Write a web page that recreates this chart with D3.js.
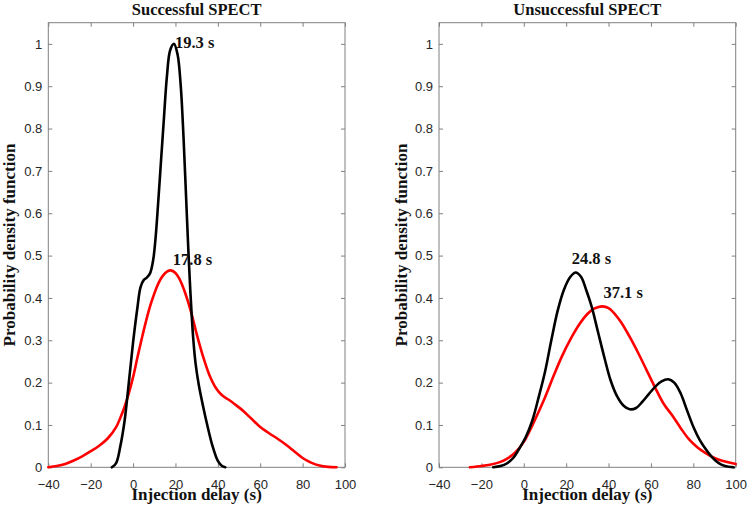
<!DOCTYPE html>
<html>
<head>
<meta charset="utf-8">
<script src="https://cdn.jsdelivr.net/npm/d3@7"></script>
<style>
  html, body { margin: 0; padding: 0; background: #fff; }
  svg { display: block; }
</style>
</head>
<body>
<svg id="chart" width="750" height="508"></svg>
<script>
// ---------------- DATA ----------------
const panelTitles = ["Successful SPECT", "Unsuccessful SPECT"];
const xTicks = [-40, -20, 0, 20, 40, 60, 80, 100];
const yTicks = [0, 0.1, 0.2, 0.3, 0.4, 0.5, 0.6, 0.7, 0.8, 0.9, 1];
const xLabel = "Injection delay (s)";
const yLabel = "Probability density function";

// Successful SPECT - black curve
const succBlackX = [-10, -8, -6, -4, -2, 0, 2, 3.5, 5, 6.5, 8, 9.5, 10.5, 11.5, 13, 14.5, 16, 17.5, 19.3, 21, 22.5, 23.8, 25, 26.2, 27.2, 28.3, 29.5, 31, 33, 35, 37.5, 40, 42, 43.5];
const succBlackY = [0, 0.01, 0.05, 0.11, 0.2, 0.295, 0.375, 0.425, 0.442, 0.448, 0.458, 0.49, 0.535, 0.6, 0.71, 0.82, 0.925, 0.985, 1.0, 0.975, 0.9, 0.78, 0.64, 0.5, 0.4, 0.31, 0.245, 0.195, 0.145, 0.1, 0.05, 0.015, 0.003, 0];
// Successful SPECT - red curve
const succRedX = [-40, -36, -32, -28, -24, -20, -16, -12, -8, -6, -4, -2, 0, 2, 4, 6, 8, 10, 12, 14, 16, 17.8, 20, 22, 24, 26, 28, 30, 33, 36, 39, 42, 45, 48, 52, 56, 60, 64, 68, 72, 76, 80, 84, 88, 92, 96];
const succRedY = [0, 0.003, 0.008, 0.016, 0.026, 0.038, 0.051, 0.068, 0.095, 0.117, 0.143, 0.175, 0.213, 0.258, 0.302, 0.343, 0.38, 0.41, 0.435, 0.452, 0.462, 0.465, 0.459, 0.444, 0.42, 0.39, 0.355, 0.315, 0.262, 0.218, 0.188, 0.17, 0.16, 0.149, 0.133, 0.114, 0.095, 0.081, 0.068, 0.054, 0.038, 0.022, 0.011, 0.004, 0.001, 0];

// Unsuccessful SPECT - black curve
const unsBlackX = [-14.4, -11, -8, -5, -2, 1, 4, 7, 10, 13, 16, 19, 22, 24.5, 27, 29.5, 32, 35, 38, 41, 44, 47, 50, 53, 56, 59, 62, 65, 68.2, 71, 74, 77, 80, 83, 86, 89, 92, 95, 99];
const unsBlackY = [0, 0.003, 0.009, 0.022, 0.045, 0.072, 0.11, 0.165, 0.225, 0.3, 0.37, 0.42, 0.45, 0.46, 0.45, 0.418, 0.38, 0.32, 0.26, 0.205, 0.168, 0.146, 0.137, 0.14, 0.155, 0.173, 0.19, 0.203, 0.208, 0.2, 0.175, 0.135, 0.096, 0.065, 0.042, 0.023, 0.01, 0.003, 0];
// Unsuccessful SPECT - red curve
const unsRedX = [-25.4, -20, -16, -12, -8, -4, 0, 3, 6, 10, 14, 18, 22, 26, 30, 33, 35, 37.1, 40, 43, 46, 50, 54, 58, 62, 66, 70, 74, 78, 82, 86, 90, 94, 100];
const unsRedY = [0, 0.003, 0.006, 0.011, 0.02, 0.035, 0.06, 0.088, 0.12, 0.165, 0.215, 0.262, 0.302, 0.336, 0.362, 0.374, 0.378, 0.38, 0.376, 0.362, 0.342, 0.308, 0.27, 0.229, 0.188, 0.15, 0.123, 0.093, 0.066, 0.047, 0.033, 0.022, 0.015, 0.008];

// Peak annotations
const succPeakLabels = ["19.3 s", "17.8 s"];
const succPeakX = [19.3, 17.8];
const succPeakY = [1.0, 0.465];
const unsPeakLabels = ["24.8 s", "37.1 s"];
const unsPeakX = [24.8, 37.1];
const unsPeakY = [0.46, 0.38];

// ---------------- DRAW ----------------
const svg = d3.select("#chart");
const serif = "'Liberation Serif', 'DejaVu Serif', serif";
const sans = "'Liberation Sans', Arial, sans-serif";
const axisColor = "#808080";
const textColor = "#262626";

const panels = [
  { title: panelTitles[0], left: 48.3, right: 345, ylabX: 15,
    series: [ {x: succRedX, y: succRedY, color: "#ff0000"}, {x: succBlackX, y: succBlackY, color: "#000"} ],
    labels: succPeakLabels, px: succPeakX, py: succPeakY,
    offsets: [[1, 4, "start"], [2, -5, "start"]] },
  { title: panelTitles[1], left: 439, right: 735.7, ylabX: 407,
    series: [ {x: unsRedX, y: unsRedY, color: "#ff0000"}, {x: unsBlackX, y: unsBlackY, color: "#000"} ],
    labels: unsPeakLabels, px: unsPeakX, py: unsPeakY,
    offsets: [[-4.6, -9, "start"], [1, -8.5, "start"]] }
];

const plotTop = 22.7, plotBottom = 467.3;

panels.forEach(p => {
  const x = d3.scaleLinear().domain([-40, 100]).range([p.left, p.right]);
  const y = d3.scaleLinear().domain([0, 1.05]).range([plotBottom, plotTop]);
  const g = svg.append("g");

  // box
  g.append("rect")
    .attr("x", p.left).attr("y", plotTop)
    .attr("width", p.right - p.left).attr("height", plotBottom - plotTop)
    .attr("fill", "none").attr("stroke", axisColor).attr("stroke-width", 1);

  // x ticks (inward, bottom & top)
  const xAxis = d3.axisBottom(x).tickValues(xTicks).tickSizeInner(-4).tickSizeOuter(0).tickPadding(0).tickFormat(d3.format("d"));
  const gx = g.append("g").attr("transform", `translate(0,${plotBottom})`).call(xAxis);
  gx.select(".domain").remove();
  gx.selectAll(".tick line").attr("stroke", axisColor);
  gx.selectAll(".tick text").attr("font-family", sans).attr("font-size", 13).attr("fill", textColor)
    .attr("y", 22).attr("dy", 0);
  const xAxisTop = d3.axisTop(x).tickValues(xTicks).tickSizeInner(-4).tickSizeOuter(0).tickFormat("");
  const gxt = g.append("g").attr("transform", `translate(0,${plotTop})`).call(xAxisTop);
  gxt.select(".domain").remove();
  gxt.selectAll(".tick line").attr("stroke", axisColor);

  // y ticks (inward, left & right)
  const yAxis = d3.axisLeft(y).tickValues(yTicks).tickSizeInner(-4).tickSizeOuter(0).tickPadding(0).tickFormat(d => d3.format("")(+d.toFixed(1)));
  const gy = g.append("g").attr("transform", `translate(${p.left},0)`).call(yAxis);
  gy.select(".domain").remove();
  gy.selectAll(".tick line").attr("stroke", axisColor);
  gy.selectAll(".tick text").attr("font-family", sans).attr("font-size", 13).attr("fill", textColor)
    .attr("x", -6);
  const yAxisR = d3.axisRight(y).tickValues(yTicks).tickSizeInner(-4).tickSizeOuter(0).tickFormat("");
  const gyr = g.append("g").attr("transform", `translate(${p.right},0)`).call(yAxisR);
  gyr.select(".domain").remove();
  gyr.selectAll(".tick line").attr("stroke", axisColor);

  // curves
  const line = d3.line().x(d => x(d[0])).y(d => y(Math.max(0, d[1]))).curve(d3.curveCatmullRom.alpha(0.5));
  p.series.forEach(s => {
    const pts = s.x.map((v, i) => [v, s.y[i]]);
    g.append("path").datum(pts).attr("d", line)
      .attr("fill", "none").attr("stroke", s.color).attr("stroke-width", 2.6)
      .attr("stroke-linejoin", "round").attr("stroke-linecap", "round");
  });

  // peak labels
  p.labels.forEach((t, i) => {
    g.append("text").text(t)
      .attr("x", x(p.px[i]) + p.offsets[i][0])
      .attr("y", y(p.py[i]) + p.offsets[i][1])
      .attr("text-anchor", p.offsets[i][2])
      .attr("font-family", serif).attr("font-weight", "bold").attr("font-size", 16.5).attr("fill", "#111");
  });

  // title
  g.append("text").text(p.title)
    .attr("x", (p.left + p.right) / 2).attr("y", 15)
    .attr("text-anchor", "middle")
    .attr("font-family", serif).attr("font-weight", "bold").attr("font-size", 16.5).attr("fill", "#111");

  // x label
  g.append("text").text(xLabel)
    .attr("x", (p.left + p.right) / 2).attr("y", 500)
    .attr("text-anchor", "middle")
    .attr("font-family", serif).attr("font-weight", "bold").attr("font-size", 17).attr("fill", "#111");

  // y label
  g.append("text").text(yLabel)
    .attr("transform", `translate(${p.ylabX},${(plotTop + plotBottom) / 2}) rotate(-90)`)
    .attr("text-anchor", "middle")
    .attr("font-family", serif).attr("font-weight", "bold").attr("font-size", 17).attr("fill", "#111");
});
</script>
</body>
</html>
